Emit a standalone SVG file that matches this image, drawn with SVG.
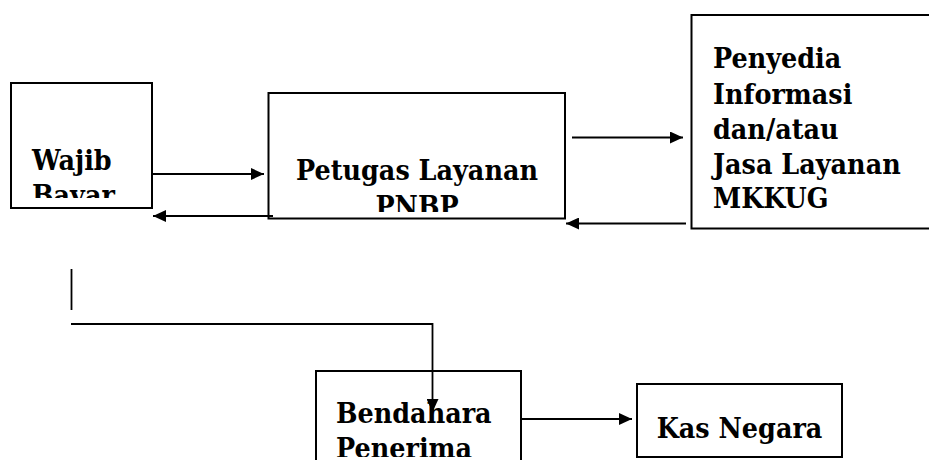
<svg xmlns="http://www.w3.org/2000/svg" width="929" height="460" viewBox="0 0 929 460">
<style>
.box{fill:#fff;stroke:#000;stroke-width:2}
.t{font-family:"DejaVu Serif",serif;font-weight:bold;font-size:25.5px;fill:#000}
.c{fill:none;stroke:#000;stroke-width:1.8}
.a{marker-end:url(#ah)}
</style>
<defs>
<marker id="ah" viewBox="0 0 13 12" refX="13" refY="6" markerWidth="13" markerHeight="12" markerUnits="userSpaceOnUse" orient="auto">
<path d="M0,0 L13,6 L0,12 Z" fill="#000"/>
</marker>
<clipPath id="cw"><rect x="11" y="83" width="141" height="115"/></clipPath>
<clipPath id="cp"><rect x="268" y="93" width="297" height="119"/></clipPath>
<clipPath id="cb"><rect x="316" y="371" width="205" height="86"/></clipPath>
</defs>
<g id="wajib-bayar">
<rect class="box" x="11" y="83" width="141" height="125"/>
<g clip-path="url(#cw)">
<text class="t" transform="matrix(1 0 0 1.1 32 170)">Wajib</text>
<text class="t" transform="matrix(1 0 0 1.1 32 204.5)">Bayar</text>
</g>
</g>
<g id="petugas-layanan">
<rect class="box" x="268.5" y="93" width="296.5" height="125.5"/>
<g clip-path="url(#cp)">
<text class="t" text-anchor="middle" transform="matrix(1 0 0 1.1 417 180)">Petugas Layanan</text>
<text class="t" text-anchor="middle" transform="matrix(1 0 0 1.1 417 216)">PNBP</text>
</g>
</g>
<g id="penyedia">
<rect class="box" x="691.5" y="15" width="250" height="213.5"/>
<text class="t" transform="matrix(1 0 0 1.1 713 68)">Penyedia</text>
<text class="t" transform="matrix(1 0 0 1.1 713 104)">Informasi</text>
<text class="t" transform="matrix(1 0 0 1.1 713 139)">dan/atau</text>
<text class="t" transform="matrix(1 0 0 1.1 713 174)">Jasa Layanan</text>
<text class="t" transform="matrix(1 0 0 1.1 713 208)">MKKUG</text>
</g>
<g id="bendahara-penerima">
<rect class="box" x="316" y="371" width="205" height="100"/>
<g clip-path="url(#cb)">
<text class="t" transform="matrix(1 0 0 1.1 336 423)">Bendahara</text>
<text class="t" transform="matrix(1 0 0 1.1 336 458)">Penerima</text>
</g>
</g>
<g id="kas-negara">
<rect class="box" x="637" y="384" width="205" height="73"/>
<text class="t" text-anchor="middle" transform="matrix(1 0 0 1.1 739.5 438)">Kas Negara</text>
</g>
<g id="connectors">
<line class="c a" x1="152" y1="174" x2="264" y2="174"/>
<line class="c a" x1="273" y1="216" x2="153" y2="216"/>
<line class="c a" x1="572" y1="137.5" x2="683" y2="137.5"/>
<line class="c a" x1="686" y1="223.5" x2="566" y2="223.5"/>
<line class="c" x1="71.5" y1="269" x2="71.5" y2="310"/>
<polyline class="c a" points="71,324 432.5,324 432.5,412"/>
<line class="c a" x1="521" y1="419" x2="632" y2="419"/>
</g>
</svg>
